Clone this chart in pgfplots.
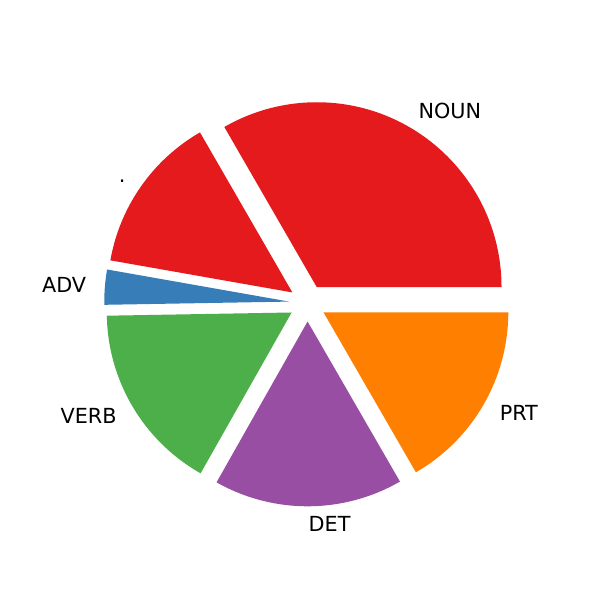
\documentclass[border=0pt]{standalone}
\usepackage{fontspec}
\setmainfont{DejaVu Sans}
\usepackage{pgfplots}
\pgfplotsset{compat=1.18}
\definecolor{setred}{HTML}{E41A1C}
\definecolor{setblue}{HTML}{377EB8}
\definecolor{setgreen}{HTML}{4DAF4A}
\definecolor{setpurple}{HTML}{984EA3}
\definecolor{setorange}{HTML}{FF7F00}
\tikzset{lbl/.style={font=\fontsize{15}{18}\selectfont, inner sep=0pt, text height=0.76em, text depth=0.24em, yshift=-2.5pt}}
\def\R{1.848in}
\def\total{360}
\begin{document}
\begin{tikzpicture}
\begin{axis}[
    hide axis, clip=false,
    x=1.848in, y=1.848in,
    xmin=-1.664, xmax=1.583, ymin=-1.607, ymax=1.640
]
\fill[white] (rel axis cs:0,0) rectangle (rel axis cs:1,1);
\gdef\cum{0}
% share per tag, wedges start at 0 deg and run counter-clockwise
\foreach \v/\c/\l in {120/setred/NOUN, 50/setred/., 11/setblue/ADV, 59.5/setgreen/VERB, 59.5/setpurple/DET, 60/setorange/PRT} {
    \pgfmathsetmacro\aa{\cum/\total*360}
    \pgfmathsetmacro\ab{(\cum+\v)/\total*360}
    \pgfmathsetmacro\am{(\aa+\ab)/2}
    \pgfmathsetmacro\ox{0.1*cos(\am)}
    \pgfmathsetmacro\oy{0.1*sin(\am)}
    \pgfmathsetmacro\lx{1.2*cos(\am)}
    \pgfmathsetmacro\ly{1.2*sin(\am)}
    \pgfmathsetmacro\side{cos(\am)>-0.001 ? 1 : 0}
    \ifdim\side pt>0.5pt \def\anc{west}\else\def\anc{east}\fi
    \edef\tmp{\noexpand\fill[\c] (axis cs:\ox,\oy) -- ++(\aa:\noexpand\R)
        arc[start angle=\aa, end angle=\ab, radius=\noexpand\R] -- cycle;
        \noexpand\node[lbl, anchor=\anc] at (axis cs:\lx,\ly) {\l};}
    \tmp
    \pgfmathsetmacro\nc{\cum+\v}
    \xdef\cum{\nc}
}
\end{axis}
\end{tikzpicture}
\end{document}
